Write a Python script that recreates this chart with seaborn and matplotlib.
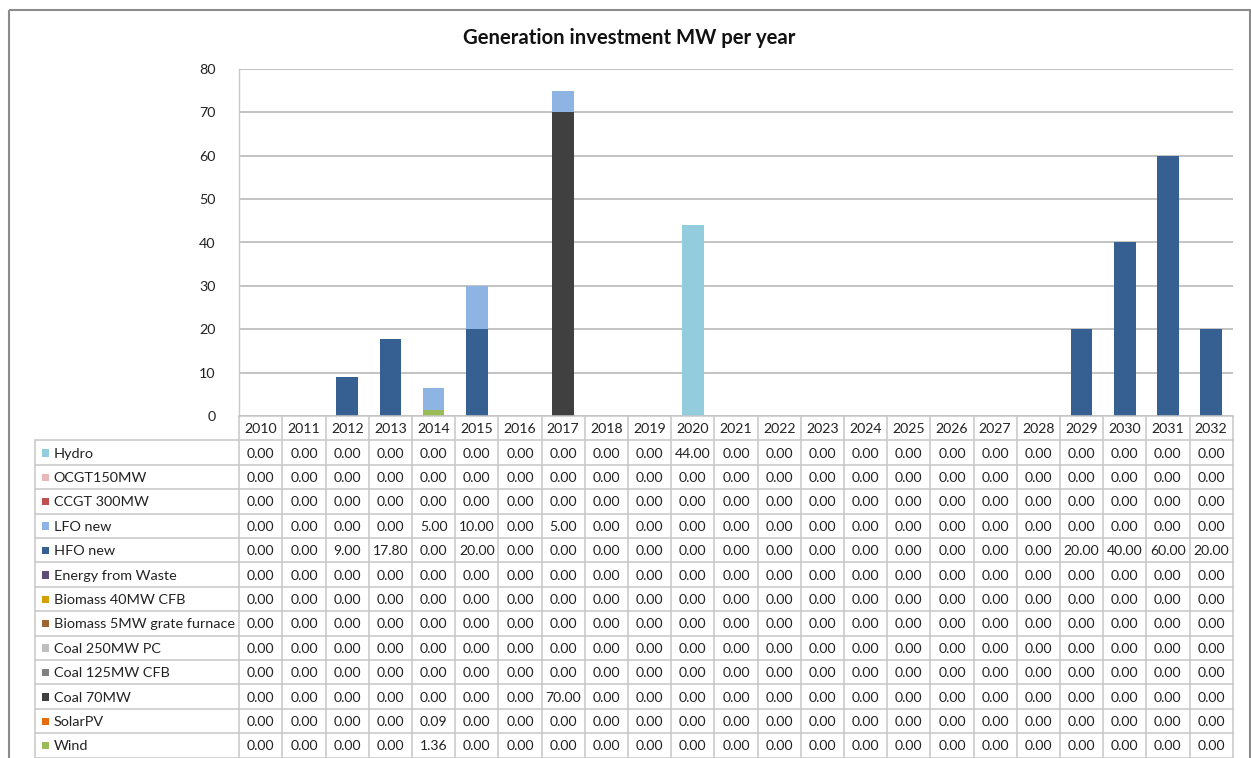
import matplotlib
matplotlib.use("Agg")
import matplotlib.pyplot as plt
from matplotlib.patches import Rectangle
from matplotlib.lines import Line2D
import numpy as np
import pandas as pd
import seaborn as sns

# ---- data -------------------------------------------------------------
years = [2010, 2011, 2012, 2013, 2014, 2015, 2016, 2017, 2018, 2019, 2020, 2021,
         2022, 2023, 2024, 2025, 2026, 2027, 2028, 2029, 2030, 2031, 2032]

hydro      = [0, 0, 0, 0, 0, 0, 0, 0, 0, 0, 44.00, 0, 0, 0, 0, 0, 0, 0, 0, 0, 0, 0, 0]
ocgt150    = [0, 0, 0, 0, 0, 0, 0, 0, 0, 0, 0, 0, 0, 0, 0, 0, 0, 0, 0, 0, 0, 0, 0]
ccgt300    = [0, 0, 0, 0, 0, 0, 0, 0, 0, 0, 0, 0, 0, 0, 0, 0, 0, 0, 0, 0, 0, 0, 0]
lfo_new    = [0, 0, 0, 0, 5.00, 10.00, 0, 5.00, 0, 0, 0, 0, 0, 0, 0, 0, 0, 0, 0, 0, 0, 0, 0]
hfo_new    = [0, 0, 9.00, 17.80, 0, 20.00, 0, 0, 0, 0, 0, 0, 0, 0, 0, 0, 0, 0, 0,
              20.00, 40.00, 60.00, 20.00]
waste      = [0, 0, 0, 0, 0, 0, 0, 0, 0, 0, 0, 0, 0, 0, 0, 0, 0, 0, 0, 0, 0, 0, 0]
bio40      = [0, 0, 0, 0, 0, 0, 0, 0, 0, 0, 0, 0, 0, 0, 0, 0, 0, 0, 0, 0, 0, 0, 0]
bio5       = [0, 0, 0, 0, 0, 0, 0, 0, 0, 0, 0, 0, 0, 0, 0, 0, 0, 0, 0, 0, 0, 0, 0]
coal250    = [0, 0, 0, 0, 0, 0, 0, 0, 0, 0, 0, 0, 0, 0, 0, 0, 0, 0, 0, 0, 0, 0, 0]
coal125    = [0, 0, 0, 0, 0, 0, 0, 0, 0, 0, 0, 0, 0, 0, 0, 0, 0, 0, 0, 0, 0, 0, 0]
coal70     = [0, 0, 0, 0, 0, 0, 0, 70.00, 0, 0, 0, 0, 0, 0, 0, 0, 0, 0, 0, 0, 0, 0, 0]
solar_pv   = [0, 0, 0, 0, 0.09, 0, 0, 0, 0, 0, 0, 0, 0, 0, 0, 0, 0, 0, 0, 0, 0, 0, 0]
wind       = [0, 0, 0, 0, 1.36, 0, 0, 0, 0, 0, 0, 0, 0, 0, 0, 0, 0, 0, 0, 0, 0, 0, 0]

series_names = ["Hydro", "OCGT150MW", "CCGT 300MW", "LFO new", "HFO new",
                "Energy from Waste", "Biomass 40MW CFB", "Biomass 5MW grate furnace",
                "Coal 250MW PC", "Coal 125MW CFB", "Coal 70MW", "SolarPV", "Wind"]
series_values = [hydro, ocgt150, ccgt300, lfo_new, hfo_new, waste, bio40, bio5,
                 coal250, coal125, coal70, solar_pv, wind]
series_colors = ["#93CDDD", "#E6B9B8", "#C0504D", "#8EB4E3", "#366092", "#604A7B",
                 "#D4A000", "#9C6430", "#BFBFBF", "#808080", "#404040", "#E46C0A",
                 "#9BBB59"]

title = "Generation investment MW per year"

# ---- style ------------------------------------------------------------
sns.set_theme(style="white")
plt.rcParams["font.family"] = ["Lato", "DejaVu Sans"]

W, H = 1251, 758
fig = plt.figure(figsize=(W / 100, H / 100), dpi=100)
fig.patch.set_facecolor("white")

# pixel layout of the plot / table
x0, x1 = 239.3, 1232.7        # plot-area left/right
y_top, y_zero = 69.0, 416.0   # value 80 and value 0
ncol = len(years)
col_w = (x1 - x0) / ncol
row_h = 24.4
label_left = 35.0

ax = fig.add_axes([x0 / W, 1 - y_zero / H, (x1 - x0) / W, (y_zero - y_top) / H])
ax.patch.set_alpha(0)

# ---- stacked bars (Wind at the bottom, Hydro on top) --------------------
df = pd.DataFrame(dict(zip(series_names, series_values)), index=years)
stack_order = series_names[::-1]           # bottom -> top
cum = df[stack_order].cumsum(axis=1)
year_labels = [str(y) for y in years]
for name in series_names:                  # tallest cumulative first
    color = series_colors[series_names.index(name)]
    sns.barplot(x=year_labels, y=cum[name].values, order=year_labels,
                color=color, saturation=1, width=0.5, linewidth=0, ax=ax)

ax.set_xlim(-0.5, ncol - 0.5)
ax.set_ylim(0, 80)
ax.set_yticks(np.arange(0, 81, 10))
ax.set_yticklabels([str(v) for v in range(0, 81, 10)], fontsize=10.3, color="#222222")
ax.set_xticks([])
ax.set_xlabel("")
ax.set_ylabel("")
ax.tick_params(axis="y", length=0, pad=17)
ax.yaxis.grid(True, color="#B3B3B3", linewidth=1.1)
ax.set_axisbelow(True)
for side in ["top", "right", "bottom"]:
    ax.spines[side].set_visible(False)
ax.spines["left"].set_color("#C8C8C8")
ax.spines["left"].set_linewidth(1.0)

# ---- data table underneath ---------------------------------------------
tab = fig.add_axes([0, 0, 1, 1])
tab.set_xlim(0, W)
tab.set_ylim(H, 0)
tab.axis("off")

grid_c = "#C6C6C6"
n_rows = len(series_names)
row_tops = [y_zero + row_h * (i + 1) for i in range(n_rows)]
bottom = y_zero + row_h * (n_rows + 1)

# horizontal rules
tab.add_line(Line2D([x0, x1], [y_zero, y_zero], color=grid_c, lw=1.1))
for i in range(n_rows + 1):
    y = y_zero + row_h * (i + 1)
    tab.add_line(Line2D([label_left, x1], [y, y], color=grid_c, lw=1.1))
# vertical rules
tab.add_line(Line2D([label_left, label_left], [row_tops[0], bottom], color=grid_c, lw=1.1))
for j in range(ncol + 1):
    x = x0 + j * col_w
    tab.add_line(Line2D([x, x], [y_zero, bottom], color=grid_c, lw=1.1))

# header: years
for j, yr in enumerate(years):
    tab.text(x0 + (j + 0.5) * col_w, y_zero + row_h / 2 + 1, str(yr),
             ha="center", va="center", fontsize=10.2, color="#222222")

# rows: legend key, series name and yearly values
for i, (name, vals, color) in enumerate(zip(series_names, series_values, series_colors)):
    yc = row_tops[i] + row_h / 2 + 1
    tab.add_patch(Rectangle((41.5, yc - 4.5), 7.5, 7.5, facecolor=color, edgecolor="none"))
    tab.text(53.5, yc, name, ha="left", va="center", fontsize=10.4, color="#222222")
    for j, v in enumerate(vals):
        tab.text(x0 + (j + 0.5) * col_w, yc, f"{v:.2f}", ha="center", va="center",
                 fontsize=10.1, color="#222222")

# chart title and outer frame
tab.text(629, 38, title, ha="center", va="center", fontsize=14.6, fontweight="bold",
         color="#111111")
tab.add_patch(Rectangle((9, 10), 1241, 760, facecolor="none", edgecolor="#8C8C8C", lw=1.5))

fig.savefig("out.png", dpi=100)
